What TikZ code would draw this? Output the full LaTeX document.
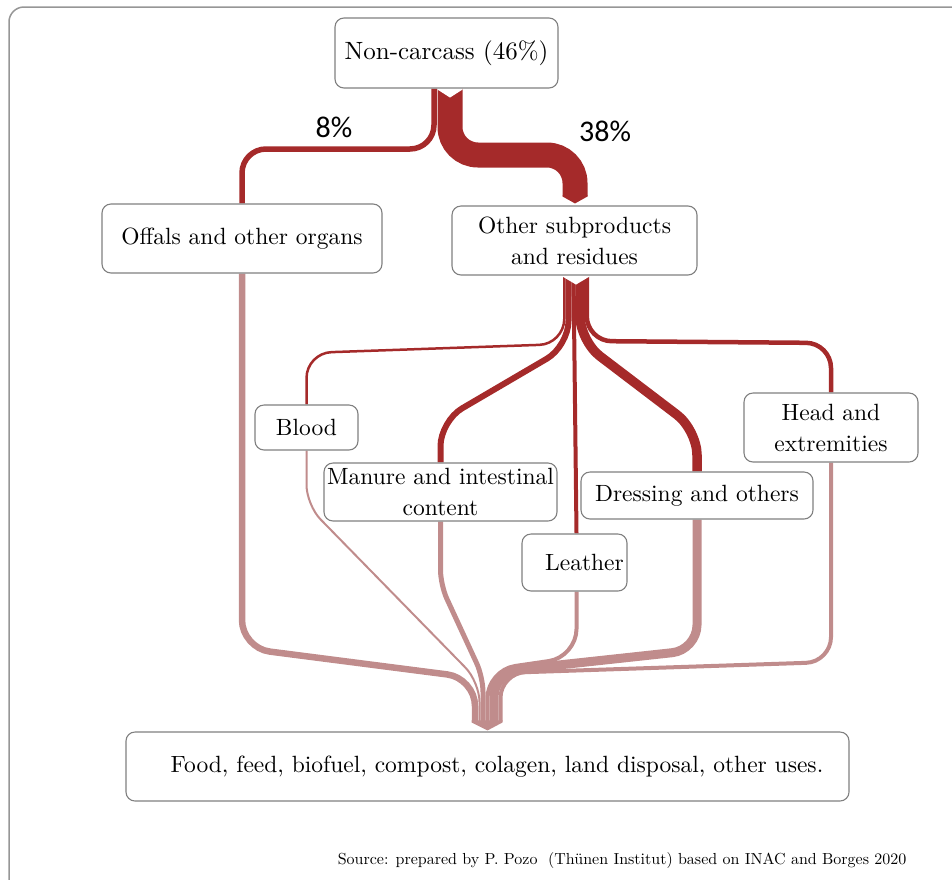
\documentclass[tikz,border=0pt]{standalone}
\usepackage{fontspec}
\setmainfont{lmroman10-regular.otf}
\newfontfamily\pctfont{Carlito}
\usetikzlibrary{calc}
\definecolor{flowdark}{RGB}{165,42,42}
\definecolor{flowlight}{RGB}{192,140,140}
\definecolor{boxline}{RGB}{128,128,128}
\definecolor{framegray}{RGB}{150,150,150}
\pgfdeclarelayer{bg}
\pgfsetlayers{bg,main}

\begin{document}
\begin{tikzpicture}[x=1pt,y=-1pt,
  box/.style={draw=boxline, line width=1.1pt, fill=white, rounded corners=9pt,
    inner sep=0pt, align=center, font=\fontsize{23.5}{31}\selectfont},
  upflow/.style={draw=flowdark},
  downflow/.style={draw=flowlight},
  pct/.style={font=\pctfont\fontsize{30}{32}\selectfont, text=black}]

\useasboundingbox (0,0) rectangle (952,879);

% boxes
\node[box, font=\fontsize{25}{30}\selectfont, minimum width=223pt, minimum height=70pt]
  (nc) at (446.5,53) {Non-carcass (46\%)};
\node[box, minimum width=280pt, minimum height=69pt] (offals) at (242,238.5) {Offals and other organs};
\node[box, minimum width=245pt, minimum height=69pt] (other) at (574.5,240.5) {Other subproducts\\and residues};
\node[box, minimum width=103pt, minimum height=45pt] (blood) at (306.5,427.5) {Blood};
\node[box, minimum width=233pt, minimum height=58pt] (manure) at (440.5,492) {Manure and intestinal\\content};
\node[box, minimum width=105pt, minimum height=57pt] (leather) at (574.5,562.5) {\hspace*{20pt}Leather};
\node[box, minimum width=232pt, minimum height=47pt] (dressing) at (697,495.5) {Dressing and others};
\node[box, minimum width=174pt, minimum height=69pt] (head) at (831,427.5) {Head and\\extremities};
\node[box, minimum width=723pt, minimum height=69pt] (uses) at (487.5,766.5)
  {\hspace*{19pt}Food, feed, biofuel, compost, colagen, land disposal, other uses.};

% shares
\node[pct] (p8) at (334,127) {8\%};
\node[pct] (p38) at (605,131) {38\%};

% source line
\node[font=\fontsize{16}{18}\selectfont, anchor=east] (src) at (910,860)
  {Source: prepared by P. Pozo\ \ (Thünen Institut) based on INAC and Borges 2020};

\begin{pgfonlayer}{bg}
  % outer frame
  \draw[framegray, line width=1.5pt, rounded corners=15pt] (9,7) rectangle (1000,920);

  % split of the non-carcass share
  \draw[upflow, line width=5.5pt, rounded corners=24pt]
    ([xshift=-12.5pt]nc.south) -- (434,149) -- (242,149) -- (offals.north);
  \draw[upflow, line width=25pt, rounded corners=28pt]
    ([xshift=3.5pt]nc.south) -- (450,155) -- (575,155)
    -- ([xshift=0.5pt,yshift=9pt]other.north) coordinate (e38);
  \fill[flowdark] (e38) ++(-12.5,-1) -- ++(25,0) -- ++(0,1) -- ++(-12.5,7) -- ++(-12.5,-7) -- cycle;
  \fill[white] ([xshift=-9pt,yshift=1pt]nc.south) -- ([xshift=16pt,yshift=1pt]nc.south)
    -- ([xshift=16pt,yshift=-1pt]nc.south) -- ([xshift=3.5pt,yshift=-9pt]nc.south)
    -- ([xshift=-9pt,yshift=-1pt]nc.south) -- cycle;

  % split of the other subproducts
  \draw[upflow, line width=2.5pt, rounded corners=25pt]
    ([xshift=-10.25pt]other.south) -- (564.25,344) -- (306.5,353) -- (blood.north);
  \draw[upflow, line width=6pt, rounded corners=25pt]
    ([xshift=-6pt]other.south) -- (568.5,346) -- (440.5,421) -- (manure.north);
  \draw[upflow, line width=4pt]
    ([xshift=-1pt]other.south) -- ([xshift=2pt]leather.north);
  \draw[upflow, line width=9.5pt, rounded corners=25pt]
    ([xshift=5.5pt]other.south) -- (580,341) -- (697,430) -- (dressing.north);
  \draw[upflow, line width=4.5pt, rounded corners=25pt]
    ([xshift=12.25pt]other.south) -- (586.75,341) -- (831,343) -- (head.north);
  \fill[white] ([xshift=-12pt,yshift=1pt]other.south) -- ([xshift=15pt,yshift=1pt]other.south)
    -- ([xshift=15pt,yshift=-1pt]other.south) -- ([xshift=1.5pt,yshift=-9pt]other.south)
    -- ([xshift=-12pt,yshift=-1pt]other.south) -- cycle;

  % everything merges into the final uses
  \draw[downflow, line width=6.5pt, rounded corners=28pt]
    (offals.south) -- (242,648) -- (475,678) -- ([xshift=-12.5pt,yshift=10pt]uses.north);
  \draw[downflow, line width=2pt, rounded corners=20pt]
    (blood.south) -- (306.5,505) -- (479.5,682) -- ([xshift=-8pt,yshift=10pt]uses.north);
  \draw[downflow, line width=5pt, rounded corners=15pt]
    (manure.south) -- (440.5,585) -- (483,677) -- ([xshift=-4.5pt,yshift=10pt]uses.north);
  \draw[downflow, line width=4pt, rounded corners=28pt]
    ([xshift=2pt]leather.south) -- (576.5,657) -- (487.5,670) -- ([yshift=10pt]uses.north);
  \draw[downflow, line width=9pt, rounded corners=25pt]
    (dressing.south) -- (697,650) -- (494,672) -- ([xshift=6.5pt,yshift=10pt]uses.north);
  \draw[downflow, line width=4pt, rounded corners=25pt]
    (head.south) -- (831,662) -- (500.5,673) -- ([xshift=13pt,yshift=10pt]uses.north);
  \fill[flowlight] ([xshift=-16pt,yshift=11pt]uses.north) -- ([xshift=15pt,yshift=11pt]uses.north)
    -- ([xshift=15pt,yshift=9pt]uses.north) -- ([yshift=1pt]uses.north)
    -- ([xshift=-16pt,yshift=9pt]uses.north) -- cycle;
\end{pgfonlayer}
\end{tikzpicture}
\end{document}
